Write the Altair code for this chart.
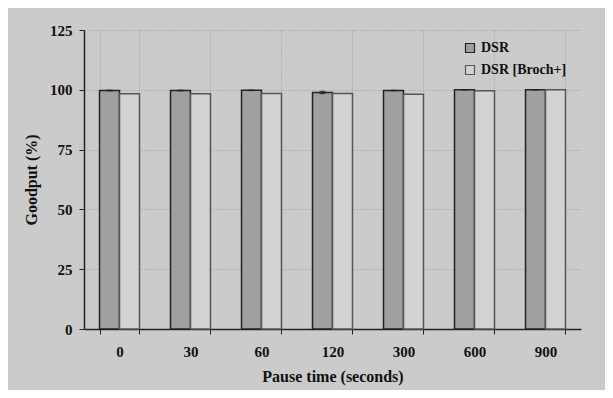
import altair as alt
import pandas as pd

pause = ["0", "30", "60", "120", "300", "600", "900"]
series_names = ["DSR", "DSR [Broch+]"]
dsr = [99.7, 99.7, 99.8, 98.9, 99.7, 100.0, 100.0]
broch = [98.4, 98.3, 98.5, 98.5, 98.1, 99.6, 100.0]
dsr_err = [0.15, 0.15, 0.1, 0.5, 0.1, 0.05, 0.05]
broch_err = [0.0, 0.0, 0.0, 0.0, 0.0, 0.0, 0.0]
y_ticks = [0, 25, 50, 75, 100, 125]

rows = []
for i, p in enumerate(pause):
    rows.append({"pause": p, "series": series_names[0], "value": dsr[i],
                 "lo": dsr[i] - dsr_err[i], "hi": dsr[i] + dsr_err[i]})
    rows.append({"pause": p, "series": series_names[1], "value": broch[i],
                 "lo": broch[i] - broch_err[i], "hi": broch[i] + broch_err[i]})
df = pd.DataFrame(rows)

FONT = "Liberation Serif"

x_enc = alt.X(
    "pause:N", sort=pause,
    scale=alt.Scale(paddingInner=0.437, paddingOuter=0.2185),
    axis=alt.Axis(
        title="Pause time (seconds)", labelAngle=0, tickBand="extent",
        tickSize=5, tickColor="#222", domainColor="#222", domainWidth=1.5,
        labelPadding=10, titlePadding=9,
        grid=True, gridColor="#9a9a9a", gridDash=[1, 2], gridWidth=1,
    ),
)
xoff = alt.XOffset("series:N", sort=series_names,
                   scale=alt.Scale(paddingInner=0, paddingOuter=0))

legend = alt.Legend(title=None, orient="none", legendX=379, legendY=11,
                    symbolType="square", symbolSize=81,
                    symbolStrokeWidth=1.2, padding=0, rowPadding=8,
                    labelFont=FONT, labelFontWeight="bold",
                    labelFontSize=14, labelColor="#111", labelOffset=4)

bars = alt.Chart(df).mark_bar(strokeWidth=1.5).encode(
    x=x_enc,
    xOffset=xoff,
    y=alt.Y("value:Q", scale=alt.Scale(domain=[0, 125], nice=False),
            axis=alt.Axis(
                title="Goodput (%)", values=y_ticks, tickSize=5,
                tickColor="#222", domainColor="#222", domainWidth=1.5,
                labelPadding=7, titlePadding=10,
                grid=True, gridColor="#9a9a9a", gridDash=[1, 2], gridWidth=1,
            )),
    fill=alt.Fill("series:N", sort=series_names,
                  scale=alt.Scale(domain=series_names, range=["#a0a0a0", "#d3d3d3"]),
                  legend=legend),
    stroke=alt.Stroke("series:N", sort=series_names,
                      scale=alt.Scale(domain=series_names, range=["#222222", "#555555"]),
                      legend=legend),
)

err_df = df[df["series"] == series_names[0]]
err = alt.Chart(err_df).mark_rule(color="#222", strokeWidth=1.5).encode(
    x=alt.X("pause:N", sort=pause), xOffset=xoff,
    y=alt.Y("lo:Q"), y2="hi:Q",
)
cap_lo = alt.Chart(err_df).mark_tick(color="#222", size=6, thickness=1.2).encode(
    x=alt.X("pause:N", sort=pause), xOffset=xoff, y="lo:Q")
cap_hi = alt.Chart(err_df).mark_tick(color="#222", size=6, thickness=1.2).encode(
    x=alt.X("pause:N", sort=pause), xOffset=xoff, y="hi:Q")

chart = alt.layer(bars, err, cap_lo, cap_hi).properties(
    width=497, height=299,
    autosize=alt.AutoSizeParams(type="none"),
    padding={"left": 76, "top": 22, "right": 24, "bottom": 61},
    background="#cbcbcb",
).configure_view(strokeWidth=0).configure_axis(
    labelFont=FONT, labelFontWeight="bold", labelFontSize=15, labelColor="#111",
    titleFont=FONT, titleFontWeight="bold", titleFontSize=16, titleColor="#111",
)

chart.save("out.html", embed_options={"renderer": "svg", "actions": False})
